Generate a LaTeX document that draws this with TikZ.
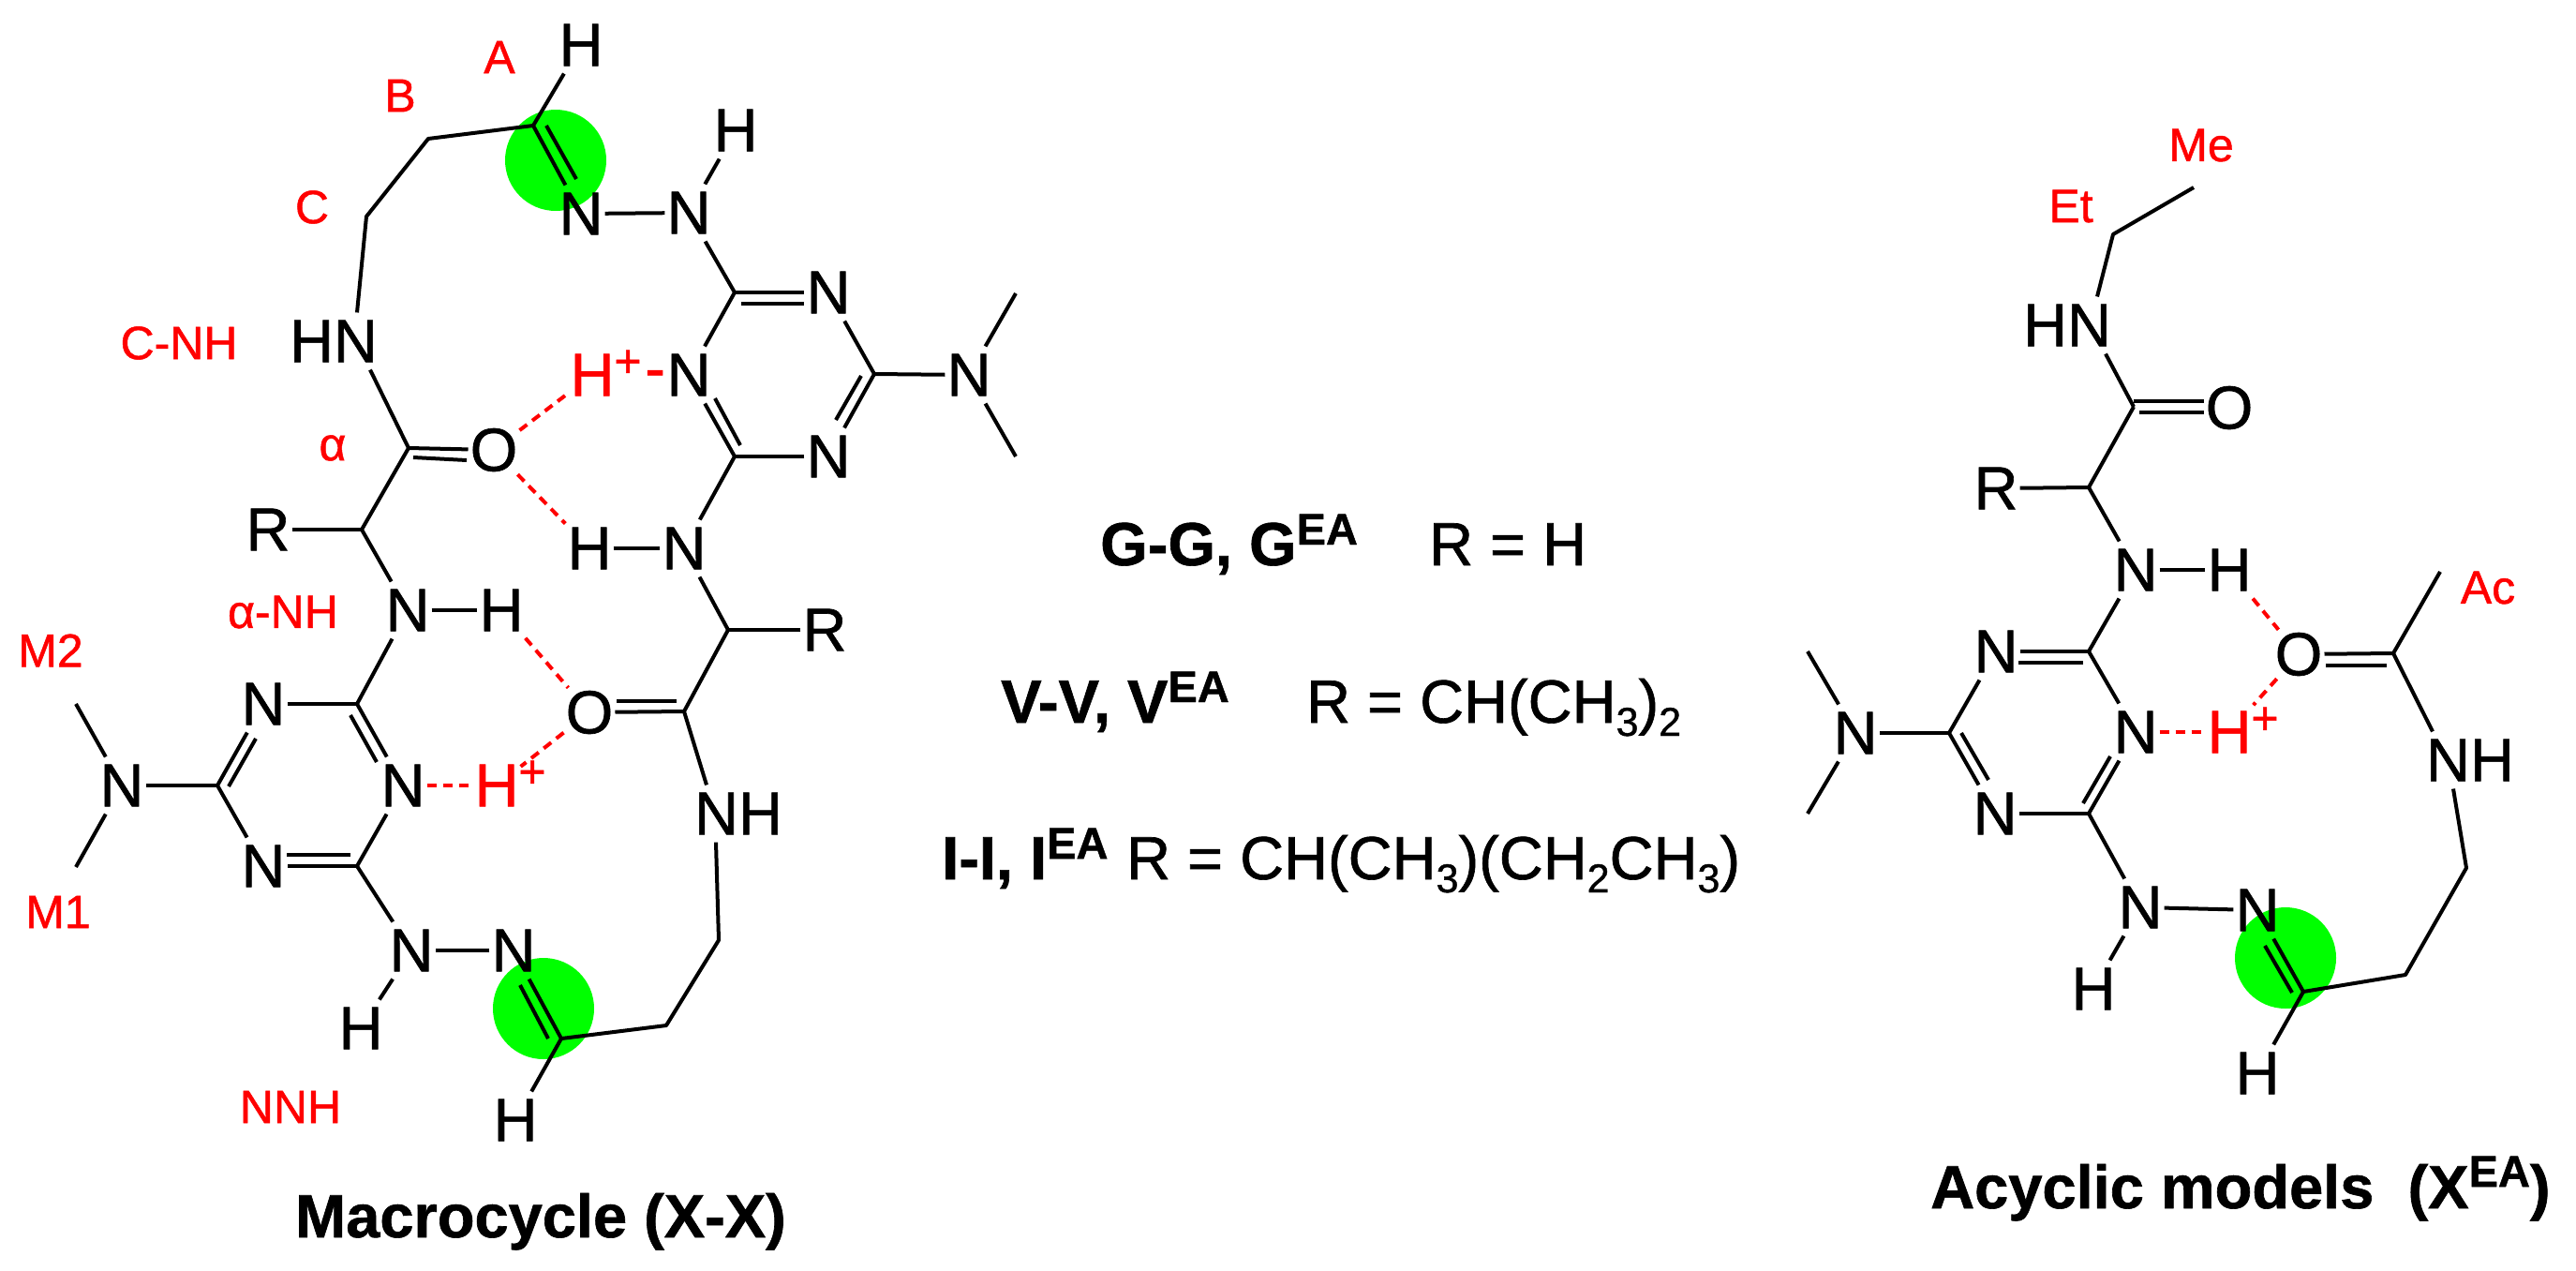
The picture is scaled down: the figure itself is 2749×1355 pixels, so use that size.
\documentclass[tikz,border=0pt]{standalone}
\usepackage{fontspec}
\setmainfont{Liberation Sans}[FakeBold=1]
\usetikzlibrary{calc}
\newcommand{\plusup}{\rlap{\smash{\raisebox{20pt}{\fontsize{50}{54}\selectfont +}}}}
\newcommand{\hplus}{H\plusup}
\newcommand{\eaup}[1]{\raisebox{#1}{\fontsize{47}{50}\selectfont EA}}
\newcommand{\lowsub}[1]{\raisebox{-14pt}{\fontsize{43}{46}\selectfont #1}}
\newcommand{\innerbond}[2]{\coordinate (ia) at (#1); \coordinate (ib) at (#2); \draw[bond] (ia) -- (ib);}
\tikzset{
  x=1pt,y=-1pt,
  atom/.style={inner xsep=2pt,inner ysep=8pt,text=black,font=\fontsize{65}{78}\selectfont},
  oatom/.style={atom,inner ysep=3pt},
  hion/.style={atom,text=red},
  minus/.style={anchor=base,inner sep=0pt,text=red,font=\fontsize{65}{78}\selectfont},
  lab/.style={inner sep=0pt,text=red,font=\fontsize{50}{60}\selectfont},
  bond/.style={line width=4pt,line join=round,draw=black},
  hb/.style={line width=4pt,draw=red,dash pattern=on 10pt off 7pt},
  spot/.style={circle,fill=spotgreen,inner sep=0pt,minimum size=108pt},
  caption/.style={anchor=base,inner sep=0pt,font=\fontsize{65}{76}\selectfont\bfseries},
  rowtext/.style={anchor=base west,inner sep=0pt,font=\fontsize{65}{78}\selectfont},
  rowbold/.style={rowtext,font=\fontsize{65}{78}\selectfont\bfseries}
}
\definecolor{spotgreen}{RGB}{0,255,0}
\begin{document}
\begin{tikzpicture}
\useasboundingbox (0,0) rectangle (2749,1355);
% green spots
\node[spot] (g1) at (593,171) {};
\node[spot] (g2) at (580,1076) {};
\node[spot] (g3) at (2439,1022) {};

% ===== macrocycle, upper half =====
\coordinate (c1) at (569,134);
\coordinate (b1) at (457,148);
\coordinate (b2) at (391,231);
\coordinate (co1) at (436,478);
\coordinate (ca1) at (386,565);
\coordinate (t1) at (784,312);
\coordinate (t2) at (933,399);
\coordinate (t3) at (784,487);
\node[atom] (h1) at (620,48) {H};
\node[atom] (n1) at (620,228) {N};
\node[atom] (n2) at (735,227) {N};
\node[atom] (h2) at (785,139) {H};
\node[atom] (hn1) at (356,364) {HN};
\node[oatom] (o1) at (527,480) {O};
\node[atom] (r1) at (286,565) {R};
\node[atom] (n3) at (435,651) {N};
\node[atom] (h3) at (535,651) {H};
\node[atom] (n4) at (884,312) {N};
\node[atom] (n5) at (884,487) {N};
\node[atom] (n6) at (735,400) {N};
\node[atom] (n7) at (1034,400) {N};
\node[hion] (hp1) at (632,400) {\hplus};
\node[minus] (m1) at (699,415) {-};
\node[atom] (h4) at (629,585) {H};
\node[atom] (n8) at (730,585) {N};
\coordinate (me1) at (1084,313);
\coordinate (me2) at (1084,487);

\draw[bond] (h1) -- (c1);
\draw[bond] (c1) -- (n1);
\innerbond{583,134}{615,191}
\draw[bond] ([xshift=25pt]hn1.north) -- (b2) -- (b1) -- (c1);
\draw[bond] ([xshift=39pt]hn1.south) -- (co1);
\draw[bond] (co1) -- (o1);
\innerbond{441,488}{498,491}
\draw[bond] (co1) -- (ca1);
\draw[bond] (r1) -- (ca1);
\draw[bond] (ca1) -- (n3);
\draw[bond] (n3) -- (h3);
\draw[bond] (n1) -- (n2);
\draw[bond] (n2) -- (h2);
\draw[bond] (n2) -- (t1);
\draw[bond] (t1) -- (n4);
\innerbond{791,324}{858,324}
\draw[bond] (n4) -- (t2);
\draw[bond] (t2) -- (n7);
\draw[bond] (n7) -- (me1);
\draw[bond] (n7) -- (me2);
\draw[bond] (t2) -- (n5);
\innerbond{919,401}{892,448}
\draw[bond] (n5) -- (t3);
\draw[bond] (t3) -- (n6);
\innerbond{790,475}{763,425}
\draw[bond] (n6) -- (t1);
\draw[bond] (t3) -- (n8);
\draw[bond] (h4) -- (n8);
\draw[hb] (o1) -- (hp1);
\draw[hb] (o1) -- (h4);

% ===== macrocycle, lower half =====
\coordinate (ca2) at (777,672);
\coordinate (co2) at (730,759);
\coordinate (b3) at (767,1003);
\coordinate (b4) at (711,1094);
\coordinate (c2) at (599,1108);
\coordinate (t4) at (381,751);
\coordinate (t5) at (232,838);
\coordinate (t6) at (381,924);
\coordinate (me3) at (81,751);
\coordinate (me4) at (81,925);
\node[atom] (r2) at (880,672) {R};
\node[oatom] (o2) at (629,760) {O};
\node[atom] (nh1) at (788,868) {NH};
\node[atom] (n9) at (548,1014) {N};
\node[atom] (h5) at (550,1195) {H};
\node[atom] (n10) at (439,1014) {N};
\node[atom] (h6) at (385,1097) {H};
\node[atom] (n11) at (281,924) {N};
\node[atom] (n12) at (281,751) {N};
\node[atom] (n13) at (130,838) {N};
\node[atom] (n14) at (430,838) {N};
\node[hion] (hp2) at (530,838) {\hplus};

\draw[bond] (n8) -- (ca2);
\draw[bond] (r2) -- (ca2);
\draw[bond] (ca2) -- (co2);
\draw[bond] (co2) -- (o2);
\innerbond{722,748}{658,748}
\draw[bond] (co2) -- ([xshift=-34pt]nh1.north);
\draw[bond] ([xshift=-24pt]nh1.south) -- (b3) -- (b4) -- (c2);
\draw[bond] (c2) -- (n9);
\innerbond{585,1108}{555,1051}
\draw[bond] (c2) -- (h5);
\draw[bond] (n9) -- (n10);
\draw[bond] (n10) -- (h6);
\draw[bond] (n10) -- (t6);
\draw[bond] (t6) -- (n11);
\innerbond{374,912}{306,912}
\draw[bond] (n11) -- (t5);
\draw[bond] (t5) -- (n13);
\draw[bond] (n13) -- (me3);
\draw[bond] (n13) -- (me4);
\draw[bond] (t5) -- (n12);
\innerbond{244,839}{273,788}
\draw[bond] (n12) -- (t4);
\draw[bond] (t4) -- (n3);
\draw[bond] (t4) -- (n14);
\innerbond{374,763}{402,813}
\draw[bond] (n14) -- (t6);
\draw[hb] (n14) -- (hp2);
\draw[hb] (h3) -- (o2);
\draw[hb] (o2) -- (hp2);

% red labels, macrocycle
\node[lab] (la) at (533,61) {A};
\node[lab] (lb) at (427,102) {B};
\node[lab] (lc) at (333,221) {C};
\node[lab] (lcnh) at (191,366) {C-NH};
\node[lab] (lal) at (355,478) {α};
\node[lab] (lanh) at (302,653) {α-NH};
\node[lab] (lm2) at (54,694) {M2};
\node[lab] (lm1) at (62,973) {M1};
\node[lab] (lnnh) at (310,1181) {NNH};
\node[caption] (cap1) at (577,1320) {Macrocycle (X-X)};

% ===== central table =====
\node[rowbold] (g) at (1174,603) {G-G, G\eaup{22pt}};
\node[rowtext] (gr) at (1525,603) {R = H};
\node[rowbold] (v) at (1068,771) {V-V, V\eaup{22pt}};
\node[rowtext] (vr) at (1394,771) {R = CH(CH\lowsub{3})\lowsub{2}};
\node[rowbold] (i) at (1005,938) {I-I, I\eaup{22pt}};
\node[rowtext] (ir) at (1202,938) {R = CH(CH\lowsub{3})(CH\lowsub{2}CH\lowsub{3})};

% ===== acyclic model =====
\coordinate (e1) at (2341,200);
\coordinate (e2) at (2255,250);
\coordinate (co3) at (2277,434);
\coordinate (ca3) at (2229,520);
\coordinate (t7) at (2229,695);
\coordinate (t8) at (2080,782);
\coordinate (t9) at (2229,868);
\coordinate (me5) at (1929,695);
\coordinate (me6) at (1929,868);
\coordinate (co4) at (2554,697);
\coordinate (ac) at (2604,610);
\coordinate (b5) at (2632,926);
\coordinate (b6) at (2567,1040);
\coordinate (c3) at (2458,1058);
\node[atom] (hn2) at (2206,347) {HN};
\node[oatom] (o3) at (2379,435) {O};
\node[atom] (r3) at (2130,521) {R};
\node[atom] (n15) at (2279,608) {N};
\node[atom] (h7) at (2379,608) {H};
\node[atom] (n16) at (2130,695) {N};
\node[atom] (n17) at (1980,782) {N};
\node[atom] (n18) at (2129,868) {N};
\node[atom] (n19) at (2279,781) {N};
\node[hion] (hp3) at (2379,781) {\hplus};
\node[oatom] (o4) at (2453,698) {O};
\node[atom] (nh2) at (2636,811) {NH};
\node[atom] (n20) at (2409,971) {N};
\node[atom] (h8) at (2409,1145) {H};
\node[atom] (n21) at (2284,968) {N};
\node[atom] (h9) at (2234,1055) {H};

\draw[bond] (e1) -- (e2) -- ([xshift=32pt]hn2.north);
\draw[bond] ([xshift=41pt]hn2.south) -- (co3);
\draw[bond] ([yshift=6pt]co3) -- ([yshift=7pt]o3.west);
\draw[bond] ([xshift=6pt,yshift=-6pt]co3) -- ([yshift=-5pt]o3.west);
\draw[bond] (co3) -- (ca3);
\draw[bond] (r3) -- (ca3);
\draw[bond] (ca3) -- (n15);
\draw[bond] (n15) -- (h7);
\draw[bond] (n15) -- (t7);
\draw[bond] (t7) -- (n16);
\innerbond{2223,707}{2154,707}
\draw[bond] (n16) -- (t8);
\draw[bond] (t8) -- (n17);
\draw[bond] (n17) -- (me5);
\draw[bond] (n17) -- (me6);
\draw[bond] (t8) -- (n18);
\innerbond{2093,782}{2122,832}
\draw[bond] (n18) -- (t9);
\draw[bond] (t9) -- (n19);
\innerbond{2223,857}{2252,807}
\draw[bond] (n19) -- (t7);
\draw[bond] (t9) -- (n21);
\draw[bond] (n21) -- (h9);
\draw[bond] (n21) -- (n20);
\draw[bond] (c3) -- (n20);
\innerbond{2446,1059}{2417,1009}
\draw[bond] (c3) -- (h8);
\draw[bond] (c3) -- (b6) -- (b5) -- ([xshift=-18pt]nh2.south);
\draw[bond] (co4) -- ([xshift=-40pt]nh2.north);
\draw[bond] (co4) -- (ac);
\draw[bond] (co4) -- (o4);
\innerbond{2547,710}{2482,710}
\draw[hb] (n19) -- (hp3);
\draw[hb] (h7) -- (o4);
\draw[hb] (o4) -- (hp3);

\node[lab] (lme) at (2349,155) {Me};
\node[lab] (let) at (2210,220) {Et};
\node[lab] (lac) at (2655,627) {Ac};
\node[caption,anchor=base west] (cap2) at (2060,1289) {Acyclic models\ \ (X\eaup{23pt})};
\end{tikzpicture}
\end{document}
